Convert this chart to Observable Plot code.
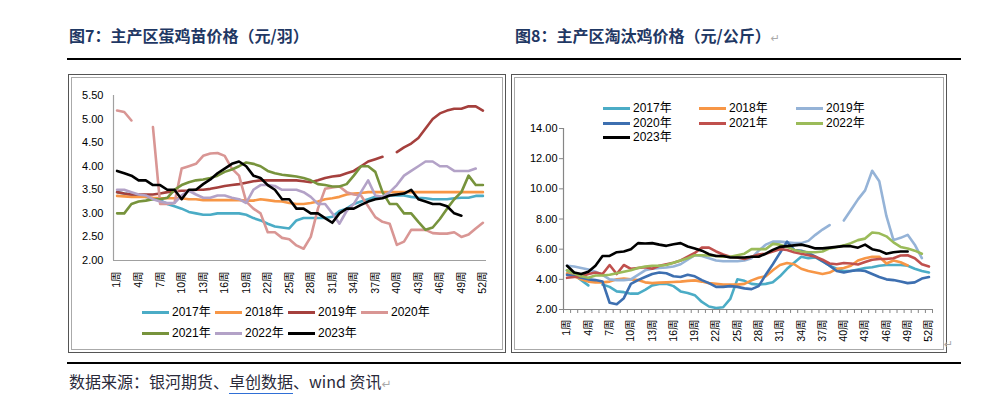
<!DOCTYPE html>
<html><head><meta charset="utf-8">
<script src="https://cdn.jsdelivr.net/npm/d3@7"></script>
<script src="https://cdn.jsdelivr.net/npm/@observablehq/plot@0.6"></script>
<style>
body{margin:0;background:#fff;width:993px;height:394px;position:relative;overflow:hidden;font-family:"Liberation Sans","Noto Sans CJK SC",sans-serif;}
.abs{position:absolute}
.title{font-family:"Noto Sans CJK SC",sans-serif;font-weight:bold;font-size:16px;color:#1f3864;top:23px;white-space:nowrap}
.rule{height:1.5px;background:#000;left:67px;width:894px}
.box{border:1px solid #555;box-shadow:inset 0 0 0 2px #fff,inset 0 0 0 3px #aaa;box-sizing:border-box}
.leg{font-size:12px;color:#000;display:flex;align-items:center;white-space:nowrap;height:14px;line-height:14px}
.sw{display:inline-block;width:27px;height:3px;margin-right:3px}
.ret{color:#aaa;font-family:"DejaVu Sans";font-weight:normal;font-size:11px}
.cap{left:69px;top:369px;font-family:"Noto Sans CJK SC",sans-serif;font-size:16px;color:#2a2a3a;white-space:nowrap}
.cap u{text-decoration:none;border-bottom:2px solid #2f6fd6}
svg{overflow:visible}
</style></head>
<body>
<div class="abs title" style="left:69px">图7：主产区蛋鸡苗价格（元/羽）</div>
<div class="abs title" style="left:515px">图8：主产区淘汰鸡价格（元/公斤）<span class="ret">↵</span></div>
<div class="abs rule" style="top:58px"></div>
<div class="abs box" style="left:68px;top:74px;width:438px;height:279px"></div>
<div class="abs box" style="left:511px;top:74px;width:436px;height:279px"></div>
<div class="abs" id="left" style="left:68px;top:75px"></div>
<div class="abs" id="right" style="left:512px;top:75px"></div>
<div class="abs ret" style="left:944px;top:338px">↵</div>
<div class="abs rule" style="top:362px"></div>
<div class="abs cap">数据来源：银河期货、<u>卓创数据</u>、wind 资讯<span class="ret" style="font-size:12px">↵</span></div>
<div id="legs"></div>
<script>
const weeks = d3.range(1, 53);
const years = ["2017年","2018年","2019年","2020年","2021年","2022年","2023年"];

// 图7 蛋鸡苗价格（元/羽）
const chick2017 = [3.45,3.42,3.4,3.38,3.35,3.3,3.28,3.2,3.15,3.1,
  3.03,3.0,2.97,2.97,3.0,3.0,3.0,3.0,2.97,2.9,
  2.85,2.78,2.72,2.7,2.68,2.85,2.9,2.9,2.9,2.9,
  2.93,3.05,3.1,3.2,3.25,3.3,3.35,3.35,3.38,3.38,
  3.38,3.35,3.33,3.32,3.3,3.3,3.3,3.32,3.33,3.33,
  3.37,3.37];
const chick2018 = [3.37,3.36,3.35,3.35,3.35,3.33,3.32,3.32,3.32,3.32,
  3.3,3.3,3.28,3.28,3.28,3.28,3.28,3.28,3.27,3.27,
  3.3,3.28,3.26,3.25,3.22,3.2,3.2,3.22,3.25,3.3,
  3.32,3.35,3.4,3.42,3.43,3.45,3.45,3.45,3.45,3.45,
  3.45,3.45,3.45,3.45,3.45,3.45,3.45,3.45,3.45,3.45,
  3.45,3.45];
const chick2019 = [3.45,3.42,3.4,3.4,3.4,3.4,3.42,3.45,3.47,3.48,
  3.48,3.5,3.5,3.52,3.55,3.58,3.6,3.62,3.65,3.68,
  3.7,3.7,3.7,3.7,3.7,3.7,3.68,3.66,3.7,3.75,
  3.78,3.8,3.85,3.9,4.0,4.1,4.15,4.2,null,4.3,
  4.4,4.48,4.6,4.8,5.0,5.12,5.18,5.22,5.22,5.27,
  5.27,5.18];
const chick2020 = [5.18,5.15,4.97,null,null,4.83,3.2,3.2,3.22,3.95,
  4.0,4.05,4.22,4.27,4.28,4.22,3.95,3.8,3.25,3.1,
  3.0,2.6,2.6,2.48,2.45,2.32,2.25,2.5,3.1,3.52,
  3.55,3.57,3.45,3.4,3.38,3.15,2.92,2.82,2.78,2.33,
  2.4,2.65,2.65,2.65,2.58,2.57,2.57,2.6,2.5,2.55,
  2.68,2.8];
const chick2021 = [3.0,3.0,3.2,3.25,3.27,3.3,3.3,3.33,3.5,3.6,
  3.66,3.7,3.72,3.75,3.8,3.88,3.93,4.0,4.08,4.05,
  4.0,3.9,3.85,3.82,3.8,3.78,3.75,3.7,3.62,3.6,
  3.57,3.57,3.62,3.8,4.0,4.0,3.88,3.45,3.2,3.2,
  3.0,3.0,2.82,2.65,2.7,2.88,3.1,3.3,3.45,3.8,
  3.6,3.6];
const chick2022 = [3.5,3.5,3.45,3.4,3.38,3.3,3.25,3.22,3.22,3.38,
  3.48,3.4,3.33,3.33,3.38,3.38,3.33,3.3,3.22,3.5,
  3.6,3.6,3.58,3.5,3.5,3.5,3.45,3.35,3.2,3.2,
  3.0,2.78,3.05,3.2,3.45,3.7,3.38,3.35,3.45,3.6,
  3.8,3.9,4.0,4.1,4.1,4.0,4.0,3.9,3.9,3.9,
  3.95,null];
const chick2023 = [3.9,3.85,3.8,3.7,3.7,3.6,3.6,3.5,3.5,3.3,
  3.5,3.5,3.62,3.72,3.85,3.95,4.05,4.1,4.0,3.8,
  3.75,3.6,3.5,3.3,3.3,3.1,3.1,3.0,3.0,2.9,
  2.8,3.0,3.1,3.1,3.18,3.25,3.3,3.32,3.38,3.4,
  3.42,3.5,3.3,3.25,3.2,3.2,3.15,3.0,2.95,null,
  null,null];

// 图8 淘汰鸡价格（元/公斤）
const hen2017 = [4.6,4.3,3.95,3.6,null,3.65,3.5,3.2,3.15,3.05,
  3.05,3.3,3.6,3.7,3.7,3.55,3.2,3.1,2.95,2.5,
  2.2,2.1,2.15,2.7,4.0,3.9,3.7,3.65,3.7,3.8,
  4.2,4.7,5.1,5.5,5.4,5.45,5.2,4.9,4.7,4.55,
  4.55,4.65,4.75,4.8,4.9,4.95,4.95,4.95,4.9,4.7,
  4.55,4.45];
const hen2018 = [4.4,4.2,4.0,3.85,3.8,3.8,3.85,4.0,4.05,4.0,
  3.95,3.8,3.75,3.78,3.8,3.82,3.85,3.9,3.93,3.85,
  3.75,3.7,3.65,3.65,3.65,3.7,3.93,4.1,4.2,4.6,
  4.95,5.08,5.0,4.7,4.55,4.45,4.35,4.45,4.7,4.75,
  4.9,5.25,5.4,5.5,5.5,5.05,5.25,5.13,4.92,null,
  null,null];
const hen2019 = [4.9,4.85,4.75,4.65,4.5,4.3,4.0,3.95,3.95,4.0,
  4.3,4.6,4.7,4.75,4.78,4.85,5.0,5.3,5.6,5.55,
  5.4,5.25,5.2,5.2,5.2,5.25,5.4,5.9,6.3,6.5,
  6.5,6.45,6.4,6.4,6.55,6.95,7.3,7.6,null,7.9,
  8.6,9.3,9.9,11.2,10.5,8.2,6.6,6.75,6.95,6.3,
  5.4,null];
const hen2020 = [4.3,4.2,4.1,4.0,3.95,3.85,2.45,2.35,2.75,3.7,
  3.95,4.15,4.35,4.45,4.4,4.2,4.15,4.3,4.2,3.95,
  3.75,3.5,3.5,3.55,3.5,3.4,3.35,3.55,4.3,5.0,
  5.75,6.5,5.95,5.9,5.75,5.5,5.2,4.9,4.55,4.45,
  4.55,4.6,4.55,4.35,4.15,4.0,3.95,3.85,3.75,3.8,
  4.05,4.15];
const hen2021 = [4.1,4.15,4.2,4.35,4.45,4.35,4.95,4.35,4.95,4.7,
  4.75,4.8,4.7,4.9,5.0,5.1,5.25,5.5,5.75,6.1,
  6.1,5.85,5.65,5.5,5.45,5.35,5.5,5.65,5.7,5.85,
  6.0,5.95,5.8,5.7,5.6,5.5,5.3,5.05,5.0,5.08,
  5.05,4.98,5.15,5.3,5.35,5.35,5.4,5.58,5.6,5.4,
  5.0,4.85];
const hen2022 = [4.6,4.4,4.2,4.1,4.25,4.25,4.3,4.4,4.5,4.6,
  4.75,4.85,4.9,4.9,4.95,5.1,5.25,5.4,5.6,5.6,
  5.58,5.55,5.5,5.5,5.6,5.7,6.0,6.0,6.0,6.35,
  6.3,6.15,5.95,5.85,5.8,5.8,5.85,6.05,6.15,6.25,
  6.4,6.6,6.7,7.1,7.05,6.85,6.45,6.15,6.05,5.9,
  5.7,null];
const hen2023 = [4.9,4.45,4.35,4.5,4.9,5.55,5.55,5.8,5.85,6.0,
  6.4,6.38,6.4,6.3,6.22,6.33,6.4,6.18,6.05,5.9,
  5.67,5.55,5.55,5.45,5.45,5.45,5.5,5.5,5.7,5.95,
  6.15,6.2,6.25,6.3,6.2,6.05,6.05,6.1,6.15,6.2,
  6.2,6.1,6.3,6.0,5.9,5.7,5.8,5.85,5.85,null,
  null,null];

const leftTicksY = [2,2.5,3,3.5,4,4.5,5,5.5];
const rightTicksY = [2,4,6,8,10,12,14];
const labelWeeks = [1,4,7,10,13,16,19,22,25,28,31,34,37,40,43,46,49,52];

const leftColors = ["#4bacc6","#f79646","#a5403d","#d99694","#77933c","#b3a2c7","#000000"];
const rightColors = ["#4bacc6","#f79646","#95b3d7","#3d6fb0","#c0504d","#9bbb59","#000000"];

const leftSeries = [chick2017,chick2018,chick2019,chick2020,chick2021,chick2022,chick2023];
const rightSeries = [hen2017,hen2018,hen2019,hen2020,hen2021,hen2022,hen2023];

function tidy(series){
  return years.flatMap((yr,i)=>weeks.map((w,j)=>({week:w, value:series[i][j], year:yr})));
}

const font = '"Liberation Sans","Noto Sans CJK SC",sans-serif';

const left = Plot.plot({
  width:437, height:225,
  marginLeft:45, marginRight:19, marginTop:20, marginBottom:40,
  x:{domain:[0.5,52.5]},
  y:{domain:[2,5.5]},
  color:{domain:years, range:leftColors},
  style:{fontFamily:font, fontSize:"11px", color:"#000", background:"transparent"},
  marks:[
    Plot.ruleX([0.5],{stroke:"#a0a0a0", strokeWidth:1.2}),
    Plot.ruleY([2],{stroke:"#a0a0a0", strokeWidth:1.2}),
    Plot.axisY({ticks:leftTicksY, tickFormat:d3.format(".2f"), tickSize:0, tickPadding:10, label:null, fontSize:11}),
    Plot.axisX({ticks:labelWeeks, tickFormat:d=>d+"周", tickRotate:-90, tickSize:0, tickPadding:11, label:null, fontSize:10.5}),
    Plot.line(tidy(leftSeries),{x:"week", y:"value", z:"year", stroke:"year", strokeWidth:2.6})
  ]
});
document.getElementById("left").appendChild(left);

const right = Plot.plot({
  width:434, height:270,
  marginLeft:51, marginRight:14, marginTop:53, marginBottom:36,
  x:{domain:[0.5,52.5]},
  y:{domain:[2,14]},
  color:{domain:years, range:rightColors},
  style:{fontFamily:font, fontSize:"11px", color:"#000", background:"transparent"},
  marks:[
    Plot.ruleX([0.5],{stroke:"#868686", strokeWidth:1.2}),
    Plot.ruleY([2],{stroke:"#868686", strokeWidth:1.2}),
    Plot.axisY({ticks:rightTicksY, tickFormat:d3.format(".2f"), tickSize:4, tickPadding:2, stroke:"#868686", label:null, fontSize:11}),
    Plot.axisX({ticks:d3.range(0.5,53,1), tickSize:4, text:null, stroke:"#868686", label:null}),
    Plot.axisX({ticks:labelWeeks, tickFormat:d=>d+"周", tickRotate:-90, tickSize:0, tickPadding:10, label:null, fontSize:10.5}),
    Plot.line(tidy(rightSeries),{x:"week", y:"value", z:"year", stroke:"year", strokeWidth:2.6})
  ]
});
document.getElementById("right").appendChild(right);

// legends
const legs = document.getElementById("legs");
function addLeg(x, y, label, color){
  const d = document.createElement("div");
  d.className = "abs leg";
  d.style.left = x + "px"; d.style.top = (y - 7) + "px";
  d.innerHTML = `<span class="sw" style="background:${color}"></span>${label}`;
  legs.appendChild(d);
}
const lx = [142,215,288,361], ly = [312,333];
years.forEach((yr,i)=>addLeg(lx[i%4], ly[Math.floor(i/4)], yr, leftColors[i]));
const rx = [603,699,796], ry = [108,123,137];
years.forEach((yr,i)=>addLeg(rx[i%3], ry[Math.floor(i/3)], yr, rightColors[i]));
</script>
</body></html>
